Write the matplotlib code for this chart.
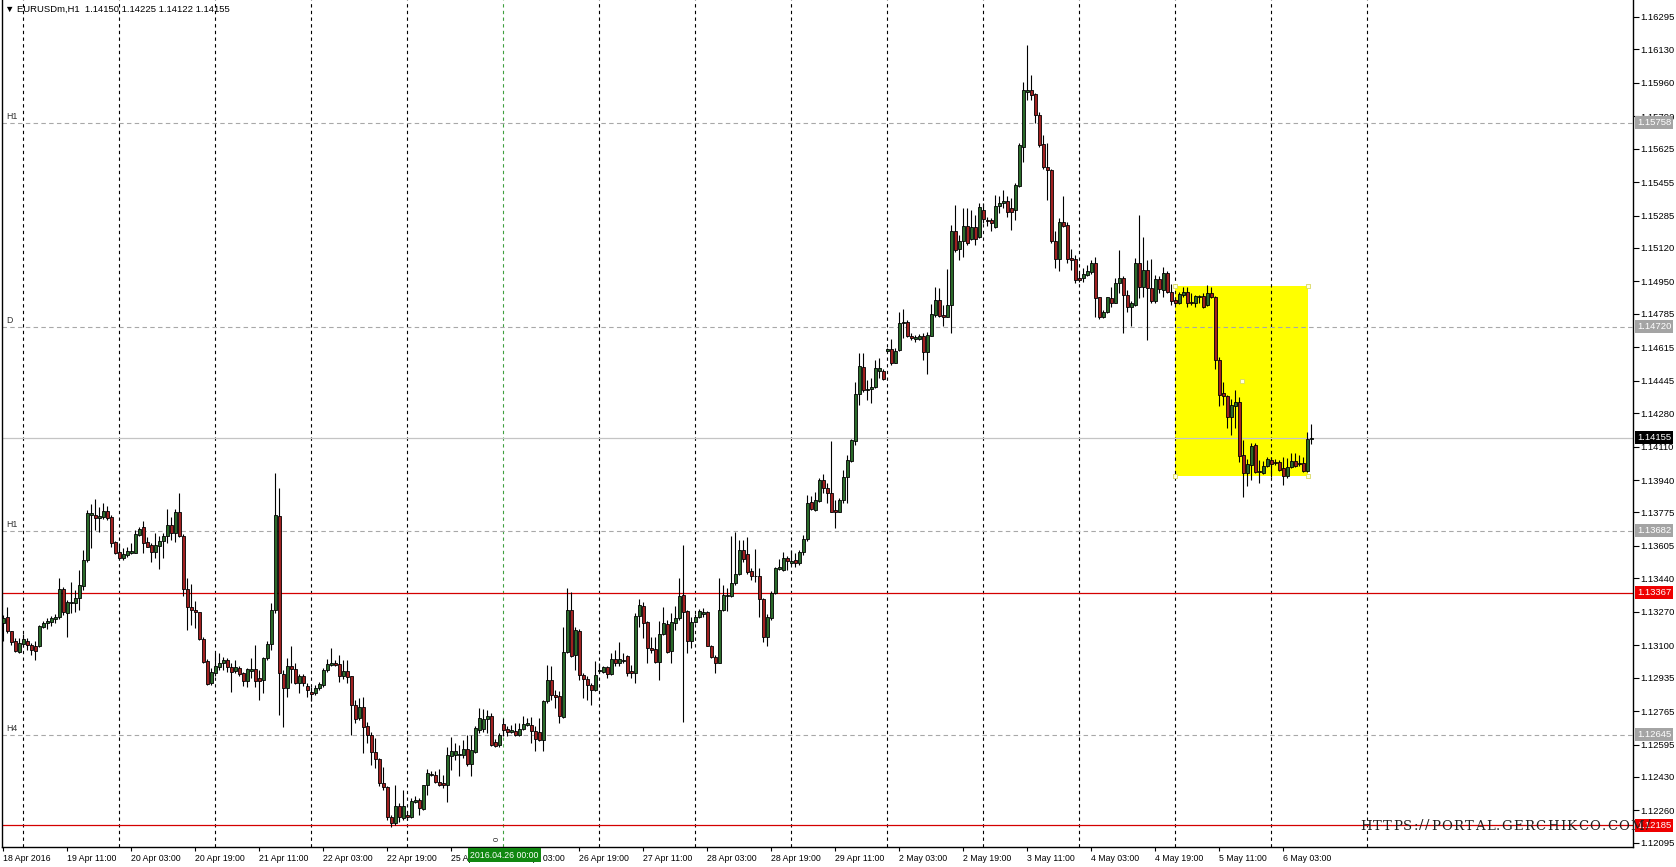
import numpy as np
import matplotlib
matplotlib.use("Agg")
import matplotlib.pyplot as plt
from matplotlib.patches import Rectangle

plt.rcParams['font.family'] = ['Liberation Sans', 'DejaVu Sans']

# ---------------- data (EURUSDm, H1) ----------------
first_bar = -5  # index of leftmost candle; bar 0 = 19 Apr 00:00

opens = [
    1.13215, 1.13242, 1.13173, 1.13124, 1.13068,
    # 19 Apr
    1.13107, 1.13124, 1.13102, 1.13097, 1.13097, 1.13195, 1.13212, 1.13220, 1.13232, 1.13242, 1.13385, 1.13263,
    1.13314, 1.13314, 1.13339, 1.13403, 1.13531, 1.13763, 1.13763, 1.13746, 1.13754, 1.13783, 1.13751, 1.13625,
    # 20 Apr
    1.13576, 1.13546, 1.13559, 1.13571, 1.13571, 1.13661, 1.13700, 1.13624, 1.13610, 1.13573, 1.13607, 1.13631,
    1.13656, 1.13710, 1.13670, 1.13778, 1.13656, 1.13385, 1.13293, 1.13280, 1.13270, 1.13132, 1.13020, 1.12907,
    # 21 Apr
    1.12961, 1.12988, 1.13012, 1.13025, 1.12988, 1.12971, 1.12983, 1.12958, 1.12920, 1.12971, 1.12978, 1.12934,
    1.12924, 1.13034, 1.13105, 1.13280, 1.13758, 1.12953, 1.12881, 1.12995, 1.12981, 1.12907, 1.12941, 1.12893,
    # 22 Apr
    1.12864, 1.12856, 1.12883, 1.12898, 1.12975, 1.13000, 1.13009, 1.13005, 1.12941, 1.12971, 1.12941, 1.12797,
    1.12729, 1.12788, 1.12690, 1.12644, 1.12559, 1.12520, 1.12398, 1.12381, 1.12225, 1.12198, 1.12283, 1.12221,
    # 25 Apr
    1.12238, 1.12229, 1.12305, 1.12314, 1.12266, 1.12390, 1.12439, 1.12441, 1.12407, 1.12399, 1.12390, 1.12538,
    1.12543, 1.12543, 1.12543, 1.12572, 1.12497, 1.12555, 1.12670, 1.12673, 1.12724, 1.12741, 1.12606, 1.12594,
    # 26 Apr
    1.12700, 1.12673, 1.12661, 1.12665, 1.12644, 1.12673, 1.12695, 1.12695, 1.12665, 1.12661, 1.12616, 1.12817,
    1.12921, 1.12848, 1.12843, 1.12734, 1.13068, 1.13277, 1.13051, 1.13172, 1.12950, 1.12928, 1.12899, 1.12870,
    # 27 Apr
    1.12967, 1.12965, 1.12989, 1.12955, 1.13029, 1.13009, 1.13022, 1.13043, 1.12967, 1.12961, 1.13251, 1.13300,
    1.13216, 1.13085, 1.13080, 1.13017, 1.13158, 1.13209, 1.13073, 1.13212, 1.13238, 1.13356, 1.13272, 1.13119,
    # 28 Apr
    1.13216, 1.13243, 1.13260, 1.13267, 1.13097, 1.13040, 1.13012, 1.13280, 1.13351, 1.13351, 1.13416, 1.13463,
    1.13582, 1.13565, 1.13475, 1.13453, 1.13450, 1.13334, 1.13144, 1.13238, 1.13365, 1.13487, 1.13484, 1.13543,
    # 29 Apr
    1.13517, 1.13531, 1.13517, 1.13572, 1.13640, 1.13826, 1.13788, 1.13831, 1.13941, 1.13898, 1.13876, 1.13788,
    1.13780, 1.13836, 1.13954, 1.14039, 1.14141, 1.14378, 1.14514, 1.14398, 1.14402, 1.14412, 1.14497, 1.14497,
    # 2 May
    1.14598, 1.14605, 1.14537, 1.14602, 1.14737, 1.14744, 1.14673, 1.14656, 1.14656, 1.14673, 1.14593, 1.14673,
    1.14780, 1.14853, 1.14780, 1.14771, 1.14831, 1.15204, 1.15114, 1.15153, 1.15232, 1.15165, 1.15226, 1.15175,
    # 3 May
    1.15314, 1.15263, 1.15263, 1.15229, 1.15331, 1.15348, 1.15358, 1.15322, 1.15314, 1.15436, 1.15636, 1.15915,
    1.15921, 1.15904, 1.15797, 1.15649, 1.15531, 1.15517, 1.15158, 1.15063, 1.15254, 1.15237, 1.15070, 1.15063,
    # 4 May
    1.14966, 1.14966, 1.14983, 1.15000, 1.15043, 1.14870, 1.14771, 1.14792, 1.14865, 1.14842, 1.14941, 1.14966,
    1.14881, 1.14822, 1.14831, 1.15043, 1.14924, 1.15009, 1.14915, 1.14848, 1.14961, 1.14907, 1.14995, 1.14898,
    # 5 May
    1.14856, 1.14842, 1.14881, 1.14898, 1.14847, 1.14842, 1.14869, 1.14876, 1.14830, 1.14893, 1.14869, 1.14551,
    1.14384, 1.14367, 1.14259, 1.14317, 1.14339, 1.14067, 1.13974, 1.14017, 1.14118, 1.13988, 1.13978, 1.14012,
    # 6 May
    1.14042, 1.14034, 1.14034, 1.14000, 1.13961, 1.14008, 1.14037, 1.14022, 1.14029, 1.13988, 1.14150,
]

highs = [
    1.13254, 1.13293, 1.13173, 1.13136, 1.13136,
    1.13158, 1.13136, 1.13110, 1.13124, 1.13203, 1.13225, 1.13237, 1.13249, 1.13258, 1.13441, 1.13398, 1.13331,
    1.13424, 1.13381, 1.13483, 1.13585, 1.13788, 1.13819, 1.13842, 1.13802, 1.13825, 1.13809, 1.13763, 1.13632,
    1.13619, 1.13593, 1.13598, 1.13619, 1.13687, 1.13703, 1.13734, 1.13649, 1.13619, 1.13670, 1.13653, 1.13670,
    1.13792, 1.13754, 1.13795, 1.13873, 1.13666, 1.13441, 1.13412, 1.13327, 1.13271, 1.13144, 1.13029, 1.12983,
    1.13063, 1.13059, 1.13039, 1.13034, 1.13009, 1.13025, 1.12995, 1.12966, 1.12983, 1.13034, 1.13102, 1.12975,
    1.13042, 1.13124, 1.13314, 1.13975, 1.13898, 1.12975, 1.13034, 1.13097, 1.13009, 1.12954, 1.12954, 1.12907,
    1.12890, 1.12898, 1.12915, 1.12983, 1.13029, 1.13085, 1.13025, 1.13051, 1.13025, 1.13025, 1.12944, 1.12822,
    1.12831, 1.12839, 1.12712, 1.12661, 1.12627, 1.12526, 1.12483, 1.12385, 1.12237, 1.12390, 1.12300, 1.12365,
    1.12255, 1.12322, 1.12331, 1.12322, 1.12390, 1.12470, 1.12458, 1.12458, 1.12470, 1.12441, 1.12585, 1.12633,
    1.12602, 1.12594, 1.12619, 1.12644, 1.12644, 1.12687, 1.12780, 1.12775, 1.12772, 1.12755, 1.12622, 1.12653,
    1.12729, 1.12687, 1.12695, 1.12704, 1.12704, 1.12738, 1.12729, 1.12734, 1.12687, 1.12729, 1.12822, 1.13000,
    1.12992, 1.12873, 1.12865, 1.13195, 1.13390, 1.13373, 1.13192, 1.13182, 1.12958, 1.12941, 1.12907, 1.13022,
    1.13009, 1.12995, 1.12995, 1.13063, 1.13077, 1.13114, 1.13063, 1.13051, 1.13000, 1.13263, 1.13334, 1.13322,
    1.13221, 1.13144, 1.13144, 1.13221, 1.13294, 1.13229, 1.13263, 1.13297, 1.13441, 1.13611, 1.13280, 1.13246,
    1.13260, 1.13284, 1.13289, 1.13272, 1.13102, 1.13051, 1.13441, 1.13407, 1.13390, 1.13656, 1.13678, 1.13636,
    1.13633, 1.13650, 1.13492, 1.13589, 1.13492, 1.13339, 1.13260, 1.13378, 1.13500, 1.13538, 1.13572, 1.13555,
    1.13585, 1.13568, 1.13585, 1.13660, 1.13865, 1.13859, 1.13881, 1.13949, 1.13971, 1.13924, 1.14141, 1.13839,
    1.13848, 1.13992, 1.14068, 1.14148, 1.14441, 1.14588, 1.14588, 1.14449, 1.14458, 1.14551, 1.14560, 1.14503,
    1.14610, 1.14656, 1.14610, 1.14797, 1.14809, 1.14754, 1.14687, 1.14678, 1.14683, 1.14687, 1.14695, 1.14836,
    1.14920, 1.14915, 1.14831, 1.15012, 1.15237, 1.15339, 1.15187, 1.15322, 1.15322, 1.15314, 1.15288, 1.15348,
    1.15348, 1.15276, 1.15271, 1.15390, 1.15382, 1.15415, 1.15382, 1.15373, 1.15449, 1.15656, 1.15966, 1.16153,
    1.16000, 1.15907, 1.15814, 1.15695, 1.15653, 1.15521, 1.15204, 1.15271, 1.15382, 1.15254, 1.15114, 1.15085,
    1.14992, 1.15017, 1.15034, 1.15059, 1.15076, 1.14873, 1.14805, 1.14873, 1.14924, 1.14966, 1.15110, 1.14975,
    1.14907, 1.14848, 1.15068, 1.15288, 1.15178, 1.15059, 1.15063, 1.14983, 1.14975, 1.15022, 1.15005, 1.14937,
    1.14873, 1.14898, 1.14923, 1.14923, 1.14890, 1.14881, 1.14881, 1.14890, 1.14932, 1.14923, 1.14876, 1.14567,
    1.14440, 1.14373, 1.14351, 1.14398, 1.14364, 1.14144, 1.14045, 1.14130, 1.14127, 1.14042, 1.14039, 1.14056,
    1.14056, 1.14045, 1.14042, 1.14059, 1.14051, 1.14076, 1.14076, 1.14067, 1.14059, 1.14186, 1.14225,
]

lows = [
    1.13124, 1.13161, 1.13102, 1.13068, 1.13063,
    1.13093, 1.13076, 1.13051, 1.13025, 1.13093, 1.13187, 1.13181, 1.13198, 1.13212, 1.13234, 1.13254, 1.13144,
    1.13263, 1.13271, 1.13280, 1.13381, 1.13525, 1.13593, 1.13687, 1.13678, 1.13741, 1.13737, 1.13602, 1.13563,
    1.13537, 1.13534, 1.13551, 1.13564, 1.13568, 1.13653, 1.13568, 1.13598, 1.13525, 1.13542, 1.13487, 1.13542,
    1.13619, 1.13636, 1.13627, 1.13648, 1.13348, 1.13178, 1.13203, 1.13187, 1.13127, 1.13009, 1.12898, 1.12898,
    1.12941, 1.12975, 1.12975, 1.12966, 1.12864, 1.12958, 1.12941, 1.12893, 1.12890, 1.12932, 1.12890, 1.12822,
    1.12856, 1.13025, 1.13076, 1.13266, 1.12746, 1.12686, 1.12839, 1.12907, 1.12903, 1.12856, 1.12893, 1.12839,
    1.12814, 1.12848, 1.12873, 1.12890, 1.12966, 1.12995, 1.12992, 1.12915, 1.12927, 1.12907, 1.12644, 1.12703,
    1.12720, 1.12554, 1.12602, 1.12492, 1.12475, 1.12385, 1.12364, 1.12212, 1.12178, 1.12186, 1.12200, 1.12212,
    1.12212, 1.12221, 1.12297, 1.12238, 1.12263, 1.12339, 1.12433, 1.12399, 1.12382, 1.12373, 1.12305, 1.12467,
    1.12517, 1.12433, 1.12526, 1.12487, 1.12436, 1.12551, 1.12653, 1.12661, 1.12653, 1.12589, 1.12582, 1.12585,
    1.12636, 1.12639, 1.12653, 1.12639, 1.12636, 1.12670, 1.12687, 1.12605, 1.12560, 1.12611, 1.12560, 1.12806,
    1.12822, 1.12780, 1.12704, 1.12729, 1.13060, 1.13039, 1.12975, 1.12921, 1.12831, 1.12822, 1.12797, 1.12865,
    1.12958, 1.12958, 1.12933, 1.12950, 1.12992, 1.12992, 1.13009, 1.12941, 1.12933, 1.12907, 1.13195, 1.13136,
    1.13012, 1.13063, 1.13009, 1.12924, 1.13153, 1.13063, 1.13012, 1.13175, 1.13229, 1.12712, 1.13063, 1.13085,
    1.13212, 1.13238, 1.13246, 1.13094, 1.13034, 1.12958, 1.13009, 1.13272, 1.13272, 1.13345, 1.13407, 1.13458,
    1.13521, 1.13463, 1.13433, 1.13424, 1.13246, 1.13114, 1.13097, 1.13229, 1.13361, 1.13484, 1.13475, 1.13484,
    1.13509, 1.13500, 1.13509, 1.13560, 1.13630, 1.13788, 1.13785, 1.13826, 1.13873, 1.13822, 1.13776, 1.13695,
    1.13775, 1.13822, 1.13822, 1.14034, 1.14119, 1.14322, 1.14390, 1.14348, 1.14331, 1.14407, 1.14458, 1.14449,
    1.14593, 1.14526, 1.14534, 1.14598, 1.14661, 1.14666, 1.14653, 1.14644, 1.14653, 1.14551, 1.14480, 1.14670,
    1.14771, 1.14771, 1.14724, 1.14768, 1.14687, 1.15102, 1.15059, 1.15076, 1.15136, 1.15161, 1.15136, 1.15170,
    1.15246, 1.15232, 1.15204, 1.15221, 1.15300, 1.15322, 1.15280, 1.15212, 1.15263, 1.15432, 1.15559, 1.15870,
    1.15873, 1.15754, 1.15636, 1.15521, 1.15365, 1.15144, 1.15017, 1.15005, 1.15229, 1.15042, 1.15009, 1.14941,
    1.14949, 1.14949, 1.14975, 1.14988, 1.14771, 1.14758, 1.14763, 1.14788, 1.14822, 1.14839, 1.14890, 1.14687,
    1.14797, 1.14724, 1.14826, 1.14865, 1.14873, 1.14653, 1.14839, 1.14842, 1.14890, 1.14873, 1.14890, 1.14830,
    1.14835, 1.14835, 1.14873, 1.14822, 1.14830, 1.14822, 1.14839, 1.14813, 1.14825, 1.14864, 1.14503, 1.14317,
    1.14322, 1.14203, 1.14169, 1.14203, 1.14034, 1.13852, 1.13910, 1.13940, 1.13978, 1.13927, 1.13971, 1.14005,
    1.13957, 1.14017, 1.13988, 1.13915, 1.13949, 1.14000, 1.14005, 1.14012, 1.13983, 1.13983, 1.14122,
]

closes = [
    1.13237, 1.13170, 1.13115, 1.13071, 1.13110,
    1.13131, 1.13102, 1.13076, 1.13073, 1.13198, 1.13215, 1.13224, 1.13239, 1.13246, 1.13385, 1.13268, 1.13322,
    1.13322, 1.13339, 1.13405, 1.13534, 1.13771, 1.13771, 1.13746, 1.13758, 1.13783, 1.13746, 1.13622, 1.13568,
    1.13546, 1.13563, 1.13578, 1.13578, 1.13666, 1.13690, 1.13622, 1.13602, 1.13573, 1.13610, 1.13631, 1.13656,
    1.13710, 1.13670, 1.13778, 1.13653, 1.13385, 1.13293, 1.13280, 1.13268, 1.13131, 1.13017, 1.12903, 1.12964,
    1.12995, 1.13012, 1.13025, 1.12988, 1.12966, 1.12987, 1.12953, 1.12920, 1.12978, 1.12981, 1.12919, 1.12917,
    1.13034, 1.13107, 1.13280, 1.13763, 1.12958, 1.12881, 1.12995, 1.12978, 1.12907, 1.12941, 1.12907, 1.12870,
    1.12851, 1.12885, 1.12903, 1.12975, 1.13005, 1.13009, 1.13000, 1.12941, 1.12971, 1.12937, 1.12797, 1.12727,
    1.12788, 1.12686, 1.12644, 1.12559, 1.12520, 1.12398, 1.12378, 1.12225, 1.12198, 1.12283, 1.12225, 1.12280,
    1.12226, 1.12309, 1.12314, 1.12272, 1.12390, 1.12450, 1.12446, 1.12407, 1.12390, 1.12389, 1.12543, 1.12560,
    1.12560, 1.12548, 1.12572, 1.12497, 1.12568, 1.12678, 1.12729, 1.12724, 1.12741, 1.12594, 1.12589, 1.12644,
    1.12670, 1.12661, 1.12670, 1.12644, 1.12673, 1.12699, 1.12704, 1.12665, 1.12622, 1.12616, 1.12817, 1.12921,
    1.12845, 1.12839, 1.12738, 1.13068, 1.13277, 1.13046, 1.13178, 1.12950, 1.12928, 1.12899, 1.12870, 1.12950,
    1.12975, 1.12989, 1.12955, 1.13029, 1.13009, 1.13029, 1.13026, 1.12961, 1.12961, 1.13251, 1.13306, 1.13212,
    1.13085, 1.13077, 1.13017, 1.13158, 1.13212, 1.13068, 1.13216, 1.13238, 1.13351, 1.13267, 1.13119, 1.13216,
    1.13243, 1.13272, 1.13267, 1.13097, 1.13040, 1.13012, 1.13280, 1.13356, 1.13356, 1.13416, 1.13463, 1.13582,
    1.13538, 1.13470, 1.13450, 1.13450, 1.13334, 1.13144, 1.13246, 1.13368, 1.13492, 1.13497, 1.13543, 1.13526,
    1.13526, 1.13517, 1.13572, 1.13640, 1.13822, 1.13792, 1.13836, 1.13941, 1.13898, 1.13873, 1.13780, 1.13780,
    1.13836, 1.13954, 1.14042, 1.14144, 1.14378, 1.14520, 1.14398, 1.14405, 1.14412, 1.14509, 1.14509, 1.14453,
    1.14605, 1.14537, 1.14598, 1.14737, 1.14744, 1.14670, 1.14661, 1.14666, 1.14673, 1.14593, 1.14678, 1.14785,
    1.14853, 1.14775, 1.14771, 1.14831, 1.15204, 1.15110, 1.15153, 1.15232, 1.15144, 1.15226, 1.15165, 1.15327,
    1.15266, 1.15258, 1.15246, 1.15334, 1.15351, 1.15358, 1.15305, 1.15305, 1.15441, 1.15644, 1.15924, 1.15924,
    1.15898, 1.15797, 1.15644, 1.15531, 1.15517, 1.15153, 1.15063, 1.15254, 1.15232, 1.15066, 1.15059, 1.14958,
    1.14958, 1.14988, 1.15005, 1.15043, 1.14865, 1.14768, 1.14797, 1.14870, 1.14842, 1.14944, 1.14966, 1.14881,
    1.14822, 1.14839, 1.15043, 1.14924, 1.15009, 1.14915, 1.14848, 1.14961, 1.14910, 1.14995, 1.14898, 1.14852,
    1.14842, 1.14886, 1.14898, 1.14842, 1.14842, 1.14876, 1.14876, 1.14822, 1.14893, 1.14869, 1.14551, 1.14373,
    1.14367, 1.14259, 1.14322, 1.14339, 1.14062, 1.13974, 1.14022, 1.14113, 1.13983, 1.13981, 1.14012, 1.14045,
    1.14022, 1.14025, 1.13991, 1.13961, 1.14005, 1.14037, 1.14012, 1.14029, 1.13988, 1.14150, 1.14155,
]

first_label = "18 Apr 2016"
time_labels = ["19 Apr 11:00", "20 Apr 03:00", "20 Apr 19:00", "21 Apr 11:00", "22 Apr 03:00",
               "22 Apr 19:00", "25 Apr 11:00", "26 Apr 03:00", "26 Apr 19:00", "27 Apr 11:00",
               "28 Apr 03:00", "28 Apr 19:00", "29 Apr 11:00", "2 May 03:00", "2 May 19:00",
               "3 May 11:00", "4 May 03:00", "4 May 19:00", "5 May 11:00", "6 May 03:00"]

price_ticks = [1.16295, 1.16130, 1.15960, 1.15790, 1.15625, 1.15455, 1.15285, 1.15120, 1.14950,
               1.14785, 1.14615, 1.14445, 1.14280, 1.14110, 1.13940, 1.13775, 1.13605, 1.13440,
               1.13270, 1.13100, 1.12935, 1.12765, 1.12595, 1.12430, 1.12260, 1.12095]

level_prices = [1.15758, 1.14720, 1.13682, 1.12645]
level_names = ["H1", "D", "H1", "H4"]
red_levels = [1.13367, 1.12185]
bid_price = 1.14155
zone_high, zone_low = 1.14927, 1.13961
zone_start_bar, zone_end_bar = 288, 321.1
marker_bar = 120  # 2016.04.26 00:00
marker_text = "2016.04.26 00:00"
marker_label = "0"
header = "\u25bc EURUSDm,H1  1.14150 1.14225 1.14122 1.14155"
watermark = "HTTPS://PORTAL.GERCHIKCO.COM/"

# ---------------- figure ----------------
W, H = 1676, 867
fig = plt.figure(figsize=(W / 100, H / 100), dpi=100, facecolor='white')
ax = fig.add_axes([2 / W, 20 / H, 1631 / W, 847 / H])
ax.set_facecolor('white')

o = np.array(opens); hi = np.array(highs); lo = np.array(lows); c = np.array(closes)
x = np.arange(len(c)) + first_bar

ax.set_xlim(-5.325, 402.4)
ax.set_ylim(1.12074, 1.16381)

FSX = 6.3
FSY = 6.8

# yellow zone
ax.add_patch(Rectangle((zone_start_bar, zone_low), zone_end_bar - zone_start_bar,
                       zone_high - zone_low, facecolor='#ffff00', edgecolor='none', zorder=0.2))

# vertical grid (every 24 bars)
for g in range(0, 337, 24):
    if g == marker_bar:
        continue
    ax.axvline(g, color='black', lw=0.8, ls=(0, (3, 3)), zorder=0.5)
ax.axvline(marker_bar, color='#40a040', lw=0.8, ls=(0, (3, 3)), zorder=0.6)
ax.annotate(marker_label, xy=(marker_bar, 0), xycoords=('data', 'axes fraction'), xytext=(-6, 6),
            textcoords='offset pixels', rotation=90, ha='center', va='bottom', fontsize=5.5,
            color='#202020', zorder=5)

# dashed levels
for p, name in zip(level_prices, level_names):
    ax.axhline(p, color='#a8a8a8', lw=0.8, ls=(0, (4, 3)), zorder=0.7)
    ax.annotate(name, xy=(0, p), xycoords=('axes fraction', 'data'), xytext=(4, 2),
                textcoords='offset pixels', ha='left', va='bottom', fontsize=FSX,
                color='#303030', zorder=5)

ax.axhline(bid_price, color='#c4c4c4', lw=0.9, zorder=0.8)
for p in red_levels:
    ax.axhline(p, color='#d40000', lw=0.9, zorder=0.8)

# candles
up = c >= o
body_lo = np.minimum(o, c)
body_h = np.maximum(np.abs(c - o), 0.00002)
ax.vlines(x, lo, hi, color='black', lw=0.8, zorder=3)
ax.bar(x, body_h, bottom=body_lo, width=0.72,
       color=np.where(up, '#2a6a2a', '#a02020'), edgecolor='black', linewidth=0.6, zorder=4)

# zone handles
hx = [zone_start_bar, zone_end_bar, zone_start_bar, zone_end_bar, (zone_start_bar + zone_end_bar) / 2]
hy = [zone_high, zone_high, zone_low, zone_low, (zone_high + zone_low) / 2]
ax.scatter(hx, hy, marker='s', s=9, facecolor='#ffffe0', edgecolor='#d8d860', linewidths=0.6, zorder=5)

# axes styling
ax.spines['top'].set_visible(False)
for side in ['left', 'right', 'bottom']:
    ax.spines[side].set_color('black')
    ax.spines[side].set_linewidth(1.0)

ax.yaxis.tick_right()
ax.set_yticks(price_ticks)
ax.set_yticklabels([f"{p:.5f}" for p in price_ticks])
ax.tick_params(axis='y', direction='out', length=4, width=0.8, pad=1.2, labelsize=FSY, colors='black')

label_bars = [first_bar] + [11 + 16 * k for k in range(len(time_labels))]
ax.set_xticks(label_bars)
ax.set_xticklabels([first_label] + time_labels, ha='left')
ax.tick_params(axis='x', direction='out', length=3, width=0.8, pad=2, labelsize=FSX, colors='black')


def tag(p, fc):
    ax.annotate(f"{p:.5f}", xy=(1, p), xycoords=('axes fraction', 'data'), xytext=(4, 0),
                textcoords='offset pixels', ha='left', va='center', fontsize=FSY, color='white',
                bbox=dict(boxstyle='square,pad=0.2', fc=fc, ec='none'),
                annotation_clip=False, zorder=6)


for p in level_prices:
    tag(p, '#a4a4a4')
tag(bid_price, '#000000')
for p in red_levels:
    tag(p, '#ee0000')

# header
fig.text(5 / W, 1 - 9 / H, header, fontsize=6.8, ha='left', va='center', color='black')

# crosshair date box
fig.text(504.5 / W, 1 - 855 / H, marker_text, fontsize=FSX, ha='center', va='center', color='white',
         bbox=dict(boxstyle='square,pad=0.3', fc='#118811', ec='none'), zorder=8)

# watermark with proportional letter spacing (tracking)
renderer = fig.canvas.get_renderer()
wm_left, wm_right, wm_y = 1360.0, 1650.0, 1 - 826 / H
glyphs = []
widths = []
for ch in watermark:
    t = fig.text(0, wm_y, ch, family=['DejaVu Serif'], fontsize=9.5, ha='left',
                 va='center', color='#202020', zorder=10)
    glyphs.append(t)
    widths.append(t.get_window_extent(renderer).width)
track = (wm_right - wm_left - sum(widths)) / (len(watermark) - 1)
xpos = wm_left
for t, w in zip(glyphs, widths):
    t.set_x(xpos / W)
    xpos += w + track

fig.savefig('out.png', dpi=100, facecolor='white')
